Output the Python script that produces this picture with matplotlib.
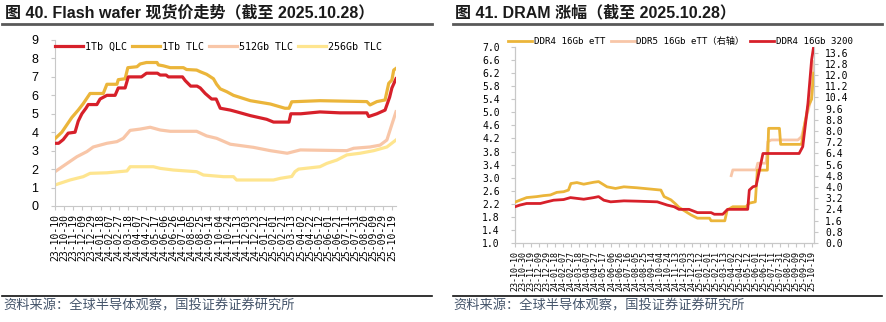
import matplotlib
matplotlib.use('Agg')
import matplotlib.pyplot as plt
from matplotlib.font_manager import FontProperties
import pandas as pd

plt.rcParams['font.family'] = ['DejaVu Sans', 'Noto Sans CJK SC']

# x-axis tick labels (shared by both charts)
tick_labels = ['23-10-10', '23-10-30', '23-11-19', '23-12-09', '23-12-29', '24-01-18',
               '24-02-07', '24-02-27', '24-03-18', '24-04-07', '24-04-27', '24-05-17',
               '24-06-06', '24-06-26', '24-07-16', '24-08-05', '24-08-25', '24-09-14',
               '24-10-04', '24-10-24', '24-11-13', '24-12-03', '24-12-23', '25-01-12',
               '25-02-01', '25-02-21', '25-03-13', '25-04-02', '25-04-22', '25-05-12',
               '25-06-01', '25-06-21', '25-07-11', '25-07-31', '25-08-20', '25-09-09',
               '25-09-29', '25-10-19']

# ---- figure 40: flash wafer spot prices (USD) ----
qlc_dates = ['2023-10-10', '2023-10-18', '2023-10-28', '2023-11-08', '2023-11-23', '2023-11-30',
             '2023-12-08', '2023-12-17', '2023-12-22', '2024-01-10', '2024-01-17', '2024-02-01',
             '2024-02-19', '2024-02-26', '2024-03-12', '2024-03-19', '2024-04-17', '2024-04-28',
             '2024-05-22', '2024-05-28', '2024-06-10', '2024-06-15', '2024-07-16', '2024-07-22',
             '2024-08-03', '2024-08-17', '2024-08-24', '2024-09-04', '2024-09-18', '2024-09-28',
             '2024-10-07', '2024-10-29', '2024-11-13', '2024-12-12', '2025-01-17', '2025-02-01',
             '2025-03-07', '2025-03-11', '2025-04-02', '2025-05-14', '2025-06-27', '2025-08-25',
             '2025-08-29', '2025-09-16', '2025-10-04', '2025-10-14', '2025-10-19', '2025-10-28']
qlc_vals = [3.4, 3.4, 3.6, 3.95, 4.0, 4.6,
            5.0, 5.3, 5.5, 5.5, 5.8, 6.0,
            6.0, 6.4, 6.4, 7.0, 7.0, 7.2,
            7.2, 7.1, 7.1, 7.0, 7.0, 6.8,
            6.5, 6.5, 6.4, 6.1, 5.8, 5.8,
            5.3, 5.2, 5.1, 4.9, 4.7, 4.55,
            4.55, 5.0, 5.0, 5.1, 5.05, 5.05,
            4.85, 5.0, 5.2, 5.9, 6.4, 6.9]

tlc1t_dates = ['2023-10-10', '2023-10-25', '2023-11-05', '2023-11-16', '2023-11-30', '2023-12-11',
               '2023-12-26', '2024-01-24', '2024-02-01', '2024-02-23', '2024-02-26', '2024-03-12',
               '2024-03-18', '2024-04-07', '2024-04-14', '2024-04-28', '2024-05-21', '2024-05-24',
               '2024-06-04', '2024-06-19', '2024-07-18', '2024-07-25', '2024-08-16', '2024-08-24',
               '2024-09-07', '2024-09-22', '2024-09-29', '2024-10-07', '2024-10-21', '2024-11-05',
               '2024-12-12', '2025-01-25', '2025-02-26', '2025-03-07', '2025-03-13', '2025-05-14',
               '2025-08-25', '2025-09-01', '2025-09-16', '2025-10-04', '2025-10-12', '2025-10-19',
               '2025-10-23', '2025-10-28']
tlc1t_vals = [3.65, 4.0, 4.4, 4.8, 5.2, 5.55,
              6.1, 6.1, 6.6, 6.6, 6.85, 6.9,
              7.5, 7.55, 7.7, 7.78, 7.78, 7.65,
              7.6, 7.5, 7.5, 7.4, 7.37, 7.28,
              7.14, 6.9, 6.6, 6.35, 6.2, 6.0,
              5.71, 5.53, 5.3, 5.3, 5.65, 5.71,
              5.66, 5.48, 5.66, 5.75, 6.65, 6.83,
              7.37, 7.46]

tlc512_dates = ['2023-10-10', '2023-11-05', '2023-11-27', '2023-12-19', '2024-01-02', '2024-02-01',
                '2024-02-23', '2024-03-08', '2024-03-23', '2024-04-14', '2024-05-06', '2024-05-28',
                '2024-06-19', '2024-08-16', '2024-09-07', '2024-09-29', '2024-10-29', '2024-12-19',
                '2025-01-25', '2025-03-03', '2025-04-01', '2025-07-12', '2025-07-27', '2025-09-01',
                '2025-09-23', '2025-10-08', '2025-10-15', '2025-10-28']
tlc512_vals = [1.86, 2.3, 2.67, 2.95, 3.2, 3.4,
               3.49, 3.67, 4.1, 4.17, 4.27, 4.12,
               4.05, 4.05, 3.8, 3.67, 3.35, 3.18,
               3.0, 2.86, 3.04, 3.0, 3.13, 3.2,
               3.3, 3.58, 4.12, 5.11]

tlc256_dates = ['2023-10-10', '2023-11-12', '2023-12-11', '2023-12-26', '2024-02-01', '2024-03-16',
                '2024-03-23', '2024-05-13', '2024-05-28', '2024-06-26', '2024-08-16', '2024-08-31',
                '2024-10-14', '2024-11-05', '2024-11-12', '2025-02-01', '2025-02-16', '2025-03-13',
                '2025-03-20', '2025-03-28', '2025-05-14', '2025-05-29', '2025-06-20', '2025-07-12',
                '2025-08-10', '2025-09-09', '2025-10-08', '2025-10-28']
tlc256_vals = [1.14, 1.41, 1.59, 1.77, 1.8, 1.9,
               2.13, 2.13, 2.04, 1.95, 1.86, 1.68,
               1.59, 1.59, 1.41, 1.41, 1.5, 1.6,
               1.86, 2.0, 2.13, 2.31, 2.49, 2.77,
               2.86, 3.0, 3.2, 3.58]

# ---- figure 41: DRAM spot prices ----
ddr4ett_dates = ['2023-10-10', '2023-10-22', '2023-11-08', '2023-12-03', '2023-12-20', '2024-01-06',
                 '2024-01-22', '2024-02-08', '2024-02-20', '2024-02-26', '2024-03-12', '2024-03-29',
                 '2024-04-23', '2024-05-05', '2024-05-26', '2024-06-16', '2024-07-07', '2024-08-09',
                 '2024-09-12', '2024-10-07', '2024-10-15', '2024-11-01', '2024-11-13', '2024-11-21',
                 '2024-12-08', '2024-12-21', '2025-01-06', '2025-02-05', '2025-02-09', '2025-03-15',
                 '2025-03-21', '2025-04-04', '2025-05-07', '2025-05-15', '2025-05-30', '2025-06-04',
                 '2025-06-29', '2025-07-02', '2025-07-29', '2025-08-01', '2025-09-22', '2025-09-30',
                 '2025-10-08', '2025-10-17', '2025-10-22']
ddr4ett_vals = [2.25, 2.31, 2.39, 2.42, 2.45, 2.47,
                2.55, 2.57, 2.62, 2.82, 2.85, 2.8,
                2.86, 2.88, 2.72, 2.67, 2.72, 2.69,
                2.65, 2.62, 2.42, 2.32, 2.19, 2.09,
                1.96, 1.86, 1.76, 1.76, 1.68, 1.68,
                2.01, 2.11, 2.11, 2.22, 2.26, 3.23,
                3.23, 4.51, 4.51, 4.02, 4.02, 4.66,
                5.17, 5.4, 6.2]

ddr5ett_dates = ['2025-03-31', '2025-04-04', '2025-06-01', '2025-06-05', '2025-06-26', '2025-06-30',
                 '2025-07-09', '2025-09-13', '2025-09-22', '2025-10-17', '2025-10-22']
ddr5ett_vals = [4.81, 5.22, 5.22, 5.7, 5.7, 7.24,
                7.36, 7.36, 7.6, 10.46, 12.96]

ddr4_3200_dates = ['2023-10-10', '2023-10-22', '2023-11-08', '2023-12-12', '2023-12-28', '2024-01-14',
                   '2024-02-08', '2024-02-25', '2024-03-29', '2024-04-23', '2024-05-05', '2024-05-18',
                   '2024-06-04', '2024-07-07', '2024-08-09', '2024-09-28', '2024-10-23', '2024-11-09',
                   '2024-11-21', '2024-12-16', '2025-01-06', '2025-02-09', '2025-02-17', '2025-03-10',
                   '2025-03-22', '2025-05-11', '2025-05-15', '2025-05-24', '2025-06-01', '2025-06-18',
                   '2025-09-16', '2025-09-25', '2025-10-08', '2025-10-17', '2025-10-22']
ddr4_3200_vals = [2.11, 2.16, 2.21, 2.21, 2.26, 2.31,
                  2.33, 2.39, 2.34, 2.39, 2.42, 2.31,
                  2.26, 2.29, 2.28, 2.26, 2.16, 2.11,
                  2.03, 2.03, 1.93, 1.93, 1.88, 1.88,
                  2.03, 2.03, 2.62, 2.72, 2.75, 3.74,
                  3.74, 3.95, 5.28, 6.6, 7.0]

RED = '#d7202a'
GOLD = '#ebb53a'
SALMON = '#f8c6a8'
YELLOW = '#fee58f'
AXCOL = '#c8c8c8'

W, H = 886, 322
fig = plt.figure(figsize=(W / 100, H / 100), dpi=100)


def box(x0, y0, x1, y1):
    # pixel box -> figure fraction
    return [x0 / W, 1 - y1 / H, (x1 - x0) / W, (y1 - y0) / H]


def to_dt(lst):
    return pd.to_datetime(lst)


tick_dates = pd.to_datetime(['20' + s for s in tick_labels])
mono = 'DejaVu Sans Mono'

# ---------------- left chart ----------------
ax1 = fig.add_axes(box(55, 40, 396, 206))
ax1.plot(to_dt(qlc_dates), qlc_vals, color=RED, lw=2.3, label='1Tb QLC', zorder=4)
ax1.plot(to_dt(tlc1t_dates), tlc1t_vals, color=GOLD, lw=2.3, label='1Tb TLC', zorder=3)
ax1.plot(to_dt(tlc512_dates), tlc512_vals, color=SALMON, lw=2.3, label='512Gb TLC', zorder=2)
ax1.plot(to_dt(tlc256_dates), tlc256_vals, color=YELLOW, lw=2.3, label='256Gb TLC', zorder=2)
ax1.set_xlim(pd.Timestamp('2023-10-10'), pd.Timestamp('2025-10-28'))
ax1.set_ylim(0, 9)
ax1.set_yticks(range(0, 10))
ax1.set_yticklabels([str(v) for v in range(0, 10)], family='Liberation Sans')
ax1.tick_params(axis='y', labelsize=9, length=3, color=AXCOL, pad=9)
ax1.set_xticks(tick_dates)
ax1.set_xticklabels(tick_labels, rotation=90, fontsize=7, family=mono)
ax1.tick_params(axis='x', length=3, color=AXCOL, pad=3)
for s in ['top', 'right']:
    ax1.spines[s].set_visible(False)
for s in ['left', 'bottom']:
    ax1.spines[s].set_color(AXCOL)
ax1.legend(loc='center left', bbox_to_anchor=(0, 0.96), ncol=4, frameon=False,
           borderaxespad=0, borderpad=0, handlelength=2.8, handletextpad=0.2,
           columnspacing=0.5, prop=FontProperties(family=mono, size=7.2))

# ---------------- right chart ----------------
ax2 = fig.add_axes(box(515, 47, 814, 243))
ax3 = ax2.twinx()
ax3.set_zorder(ax2.get_zorder() - 1)
ax2.patch.set_visible(False)
l1, = ax2.plot(to_dt(ddr4ett_dates), ddr4ett_vals, color=GOLD, lw=2.0, zorder=3)
l3, = ax2.plot(to_dt(ddr4_3200_dates), ddr4_3200_vals, color=RED, lw=2.0, zorder=4)
l2, = ax3.plot(to_dt(ddr5ett_dates), ddr5ett_vals, color=SALMON, lw=2.0)
ax2.set_xlim(pd.Timestamp('2023-10-10'), pd.Timestamp('2025-10-23'))
ax2.set_ylim(1.0, 7.0)
ax2.set_yticks([1.0 + 0.4 * i for i in range(16)])
ax2.set_yticklabels(['%.1f' % (1.0 + 0.4 * i) for i in range(16)], family=mono, fontsize=7)
ax3.set_ylim(0, 14)
ax3.set_yticks([0.8 * i for i in range(18)])
ax3.set_yticklabels(['%.1f' % (0.8 * i) for i in range(18)], family=mono, fontsize=7)
ax2.set_xticks(tick_dates)
ax2.set_xticklabels(tick_labels, rotation=90, fontsize=6, family=mono)
ax2.tick_params(axis='x', length=3, color=AXCOL, pad=3)
ax2.tick_params(axis='y', length=3, color=AXCOL, pad=8)
ax3.tick_params(axis='y', length=3, color=AXCOL, pad=5)
for a in (ax2, ax3):
    a.spines['top'].set_visible(False)
    for s in ['left', 'right', 'bottom']:
        a.spines[s].set_color(AXCOL)
ax2.legend([l1, l2, l3], ['DDR4 16Gb eTT', 'DDR5 16Gb eTT（右轴）', 'DDR4 16Gb 3200'],
           loc='center left', bbox_to_anchor=(-0.023, 1.027), ncol=3, frameon=False,
           borderaxespad=0, borderpad=0, handlelength=2.6, handletextpad=0.2,
           columnspacing=0.6, prop=FontProperties(family=[mono, 'Noto Sans CJK SC'], size=6.6))

# ---------------- titles, rules and sources ----------------
title_font = ['Liberation Sans', 'Noto Sans CJK SC']
fig.text(5 / W, 1 - 13 / H, '图 40. Flash wafer 现货价走势（截至 2025.10.28）',
         fontsize=11.5, fontweight='bold', family=title_font, va='center', color='#1a1a1a')
fig.text(455 / W, 1 - 13 / H, '图 41. DRAM 涨幅（截至 2025.10.28）',
         fontsize=11.5, fontweight='bold', family=title_font, va='center', color='#1a1a1a')
for x0, x1 in [(2, 432), (453, 882)]:
    fig.add_artist(plt.Line2D([x0 / W, x1 / W], [1 - 24 / H] * 2, color='#595959', lw=2))
    fig.add_artist(plt.Line2D([x0 / W, x1 / W], [1 - 296 / H] * 2, color='#111111', lw=1.2))
src = '资料来源：全球半导体观察，国投证券证券研究所'
fig.text(3 / W, 1 - 306 / H, src, fontsize=9.5, family='Noto Sans CJK SC',
         va='center', color='#44546a')
fig.text(453 / W, 1 - 306 / H, src, fontsize=9.5, family='Noto Sans CJK SC',
         va='center', color='#44546a')

fig.savefig('out.png', dpi=100)
